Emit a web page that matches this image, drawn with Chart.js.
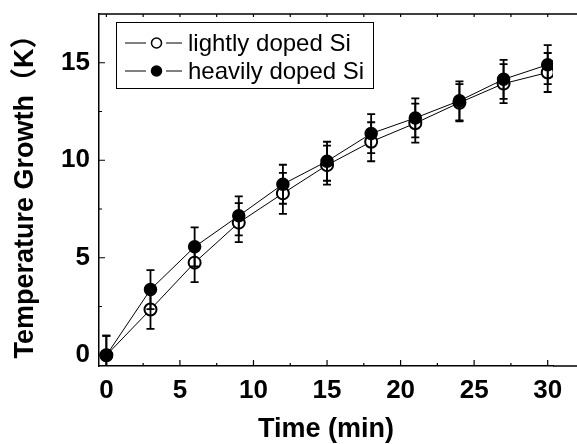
<!DOCTYPE html>
<html>
<head>
<meta charset="utf-8">
<script src="https://cdn.jsdelivr.net/npm/chart.js@4/dist/chart.umd.min.js"></script>
<style>
  html, body { margin: 0; padding: 0; background: #fff; overflow: hidden; }
  #c { display: block; }
</style>
</head>
<body>
<canvas id="c" width="577" height="444"></canvas>
<script>
// ---- data ----
const times = [0, 3, 6, 9, 12, 15, 18, 21, 24, 27, 30];
const lightly = [0, 2.35, 4.75, 6.8, 8.3, 9.75, 10.95, 11.9, 12.95, 13.93, 14.5];
const heavily = [0, 3.37, 5.56, 7.15, 8.77, 9.95, 11.37, 12.17, 13.05, 14.15, 14.9];
const lightlyErr = [1.0, 1.0, 1.0, 1.0, 1.05, 1.0, 1.0, 1.0, 0.95, 1.0, 1.0];
const heavilyErr = [1.0, 1.0, 1.0, 1.0, 1.0, 1.0, 1.0, 1.0, 1.0, 1.0, 1.0];
const xTickValues = [0, 5, 10, 15, 20, 25, 30];
const yTickValues = [0, 5, 10, 15];
const xMinorValues = [2.5, 7.5, 12.5, 17.5, 22.5, 27.5];
const yMinorValues = [2.5, 7.5, 12.5];
const seriesNames = ['lightly doped Si', 'heavily doped Si'];
const xTitle = 'Time (min)';
const yTitle = 'Temperature Growth\uFF08K\uFF09';

const FONT = '"Liberation Sans", Arial, "Noto Sans CJK SC", sans-serif';

const errorBarsPlugin = {
  id: 'errorBars',
  afterDatasetsDraw(chart) {
    const ctx = chart.ctx, xs = chart.scales.x, ys = chart.scales.y, a = chart.chartArea;
    ctx.save();
    ctx.beginPath();
    ctx.rect(a.left, a.top, a.right - a.left, a.bottom - a.top);
    ctx.clip();
    ctx.strokeStyle = '#000';
    ctx.lineWidth = 1.8;
    chart.data.datasets.forEach(ds => {
      ds.data.forEach((p, i) => {
        const e = ds.errors[i];
        const x = xs.getPixelForValue(p.x);
        const y1 = ys.getPixelForValue(p.y - e);
        const y2 = ys.getPixelForValue(p.y + e);
        ctx.beginPath();
        ctx.moveTo(x, y1); ctx.lineTo(x, y2);
        ctx.moveTo(x - 4, y1); ctx.lineTo(x + 4, y1);
        ctx.moveTo(x - 4, y2); ctx.lineTo(x + 4, y2);
        ctx.stroke();
      });
    });
    ctx.restore();
  }
};

const framePlugin = {
  id: 'frame',
  afterDraw(chart) {
    const ctx = chart.ctx, xs = chart.scales.x, ys = chart.scales.y, a = chart.chartArea;
    const W = chart.width;
    ctx.save();
    ctx.strokeStyle = '#000';
    ctx.lineWidth = 1.5;
    // top line and extension of bottom axis
    ctx.beginPath();
    ctx.moveTo(a.left, a.top); ctx.lineTo(W, a.top);
    ctx.moveTo(a.right, a.bottom); ctx.lineTo(W, a.bottom);
    ctx.stroke();
    // ticks (inward)
    ctx.lineWidth = 1.2;
    ctx.beginPath();
    xTickValues.forEach(v => {
      const x = xs.getPixelForValue(v);
      ctx.moveTo(x, a.bottom); ctx.lineTo(x, a.bottom - 6);
      ctx.moveTo(x, a.top); ctx.lineTo(x, a.top + 3);
    });
    xMinorValues.forEach(v => {
      const x = xs.getPixelForValue(v);
      ctx.moveTo(x, a.bottom); ctx.lineTo(x, a.bottom - 3);
      ctx.moveTo(x, a.top); ctx.lineTo(x, a.top + 3);
    });
    yTickValues.forEach(v => {
      const y = ys.getPixelForValue(v);
      ctx.moveTo(a.left, y); ctx.lineTo(a.left + 6, y);
    });
    yMinorValues.forEach(v => {
      const y = ys.getPixelForValue(v);
      ctx.moveTo(a.left, y); ctx.lineTo(a.left + 3, y);
    });
    ctx.stroke();

    // legend
    const bx = 116.5, by = 22.5, bw = 257, bh = 66;
    ctx.lineWidth = 1;
    ctx.strokeRect(bx, by, bw, bh);
    const rows = [43, 71];
    ctx.font = '24px ' + FONT;
    ctx.textBaseline = 'middle';
    ctx.textAlign = 'left';
    ctx.fillStyle = '#000';
    chart.data.datasets.forEach((ds, i) => {
      const y = rows[i];
      ctx.lineWidth = 1;
      ctx.beginPath();
      ctx.moveTo(125, y); ctx.lineTo(146, y);
      ctx.moveTo(166, y); ctx.lineTo(182, y);
      ctx.stroke();
      ctx.beginPath();
      ctx.arc(156.5, y, 5, 0, Math.PI * 2);
      ctx.fillStyle = ds.pointBackgroundColor;
      ctx.fill();
      ctx.lineWidth = 1.5;
      ctx.stroke();
      ctx.fillStyle = '#000';
      ctx.fillText(ds.label, 188, y + 1);
    });
    ctx.restore();
  }
};

const mkData = (vals) => times.map((t, i) => ({ x: t, y: vals[i] }));

new Chart(document.getElementById('c'), {
  type: 'line',
  data: {
    datasets: [
      {
        label: seriesNames[0],
        data: mkData(lightly),
        errors: lightlyErr,
        borderColor: '#000',
        borderWidth: 1,
        pointRadius: 6,
        pointBorderWidth: 2,
        pointBackgroundColor: '#fff',
        pointBorderColor: '#000',
        order: 1,
        tension: 0
      },
      {
        label: seriesNames[1],
        data: mkData(heavily),
        errors: heavilyErr,
        borderColor: '#000',
        borderWidth: 1,
        pointRadius: 6,
        pointBorderWidth: 1.5,
        pointBackgroundColor: '#000',
        pointBorderColor: '#000',
        order: 0,
        tension: 0
      }
    ]
  },
  options: {
    responsive: false,
    animation: false,
    devicePixelRatio: 1,
    layout: { padding: { left: 0, top: 14, right: 24, bottom: 0 } },
    plugins: { legend: { display: false }, tooltip: { enabled: false } },
    scales: {
      x: {
        type: 'linear',
        min: -0.5,
        max: 30.36,
        afterFit: s => { s.height = 78; s.paddingLeft = 0; s.paddingRight = 0; s.paddingTop = 0; s.paddingBottom = 0; },
        afterBuildTicks: s => { s.ticks = xTickValues.map(v => ({ value: v })); },
        grid: { display: false, drawTicks: false },
        border: { display: true, color: '#000', width: 1.5 },
        ticks: { color: '#000', padding: 9, font: { family: FONT, size: 26, weight: 'bold' }, maxRotation: 0, autoSkip: false },
        title: { display: true, text: xTitle, color: '#000', padding: { top: 0, bottom: -2 }, font: { family: FONT, size: 27, weight: 'bold' } }
      },
      y: {
        type: 'linear',
        min: -0.55,
        max: 17.5,
        afterFit: s => { s.width = 99; s.paddingTop = 0; s.paddingBottom = 0; s.paddingLeft = 0; s.paddingRight = 0; },
        afterBuildTicks: s => { s.ticks = yTickValues.map(v => ({ value: v })); },
        grid: { display: false, drawTicks: false },
        border: { display: true, color: '#000', width: 1.5 },
        ticks: { color: '#000', padding: 9, font: { family: FONT, size: 26, weight: 'bold' } },
        title: { display: true, text: yTitle, color: '#000', padding: { top: 9, bottom: 0 }, font: { family: FONT, size: 27, weight: 'bold' } }
      }
    }
  },
  plugins: [errorBarsPlugin, framePlugin]
});
</script>
</body>
</html>
